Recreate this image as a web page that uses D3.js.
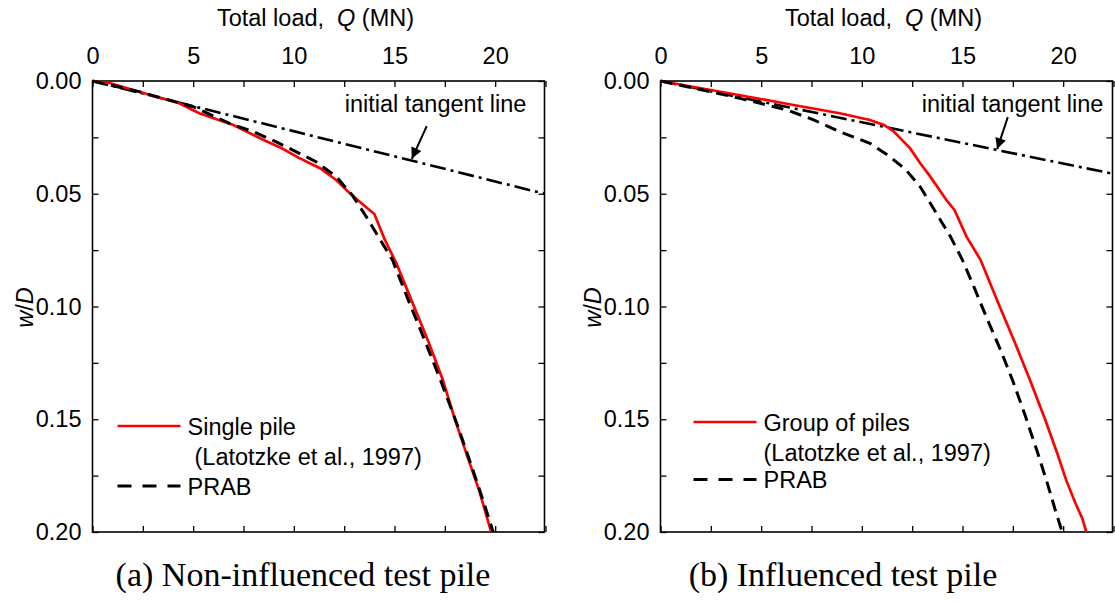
<!DOCTYPE html>
<html>
<head>
<meta charset="utf-8">
<script src="https://cdn.jsdelivr.net/npm/d3@7"></script>
<style>
  body { margin: 0; background: #fff; }
  svg text { font-family: "Liberation Sans", Arial, sans-serif; }
</style>
</head>
<body>
<div id="chart"></div>
<script>
// load Q (MN) vs normalised settlement w/D
// (a) non-influenced test pile
var singleQ = [0, 0.9, 2.7, 4.3, 5.3, 7.0, 8.5, 9.4, 10.3, 11.3, 12.1, 12.7, 13.4, 14.0, 14.5, 15.1, 15.9, 16.7, 17.4, 18.0, 18.6, 19.2, 19.8]
var singleW = [0, 0.0010, 0.0058, 0.0099, 0.0143, 0.0195, 0.0262, 0.0298, 0.0343, 0.0387, 0.0439, 0.0491, 0.0545, 0.0590, 0.0700, 0.0810, 0.0985, 0.1160, 0.1326, 0.1500, 0.1660, 0.1814, 0.2000]
var prabAQ = [0, 2.3, 3.8, 5.0, 6.8, 8.0, 9.1, 10.1, 11.1, 12.1, 12.9, 13.6, 14.2, 14.9, 15.7, 16.5, 17.3, 18.1, 18.8, 19.4, 19.9]
var prabAW = [0, 0.0047, 0.0084, 0.0114, 0.0188, 0.0225, 0.0269, 0.0313, 0.0358, 0.0424, 0.0506, 0.0602, 0.0690, 0.0794, 0.0975, 0.1150, 0.1330, 0.1520, 0.1700, 0.1860, 0.2000]
var tangentAQ = [0, 22.45]
var tangentAW = [0, 0.0500]
var arrowAQ = [16.6, 15.86]
var arrowAW = [0.0200, 0.0345]

// (b) influenced test pile
var groupQ = [0, 2.5, 4.5, 6.4, 8.9, 10.4, 11.1, 11.6, 12.4, 12.9, 13.4, 14.2, 14.6, 15.2, 15.9, 16.8, 17.6, 18.35, 19.1, 19.7, 20.15, 20.6, 20.95, 21.15]
var groupW = [0, 0.0040, 0.0072, 0.0103, 0.0143, 0.0173, 0.0195, 0.0225, 0.0299, 0.0365, 0.0424, 0.0528, 0.0572, 0.0690, 0.0794, 0.0990, 0.1160, 0.1326, 0.1500, 0.1650, 0.1770, 0.1870, 0.1940, 0.2000]
var prabBQ = [0, 2.45, 3.95, 4.95, 6.3, 7.6, 8.9, 10.4, 11.4, 12.2, 12.9, 13.4, 13.9, 14.4, 15.0, 15.6, 16.2, 16.9, 17.5, 18.1, 18.7, 19.2, 19.6, 19.95]
var prabBW = [0, 0.0047, 0.0077, 0.0099, 0.0129, 0.0172, 0.0225, 0.0276, 0.0336, 0.0395, 0.0469, 0.0542, 0.0616, 0.0690, 0.0794, 0.0920, 0.1050, 0.1195, 0.1330, 0.1480, 0.1640, 0.1780, 0.1900, 0.2000]
var tangentBQ = [0, 22.45]
var tangentBW = [0, 0.0411]
var arrowBQ = [17.25, 16.72]
var arrowBW = [0.0160, 0.0302]

// axis ticks
var xTicks = [0, 2.5, 5, 7.5, 10, 12.5, 15, 17.5, 20, 22.5]
var yTicks = [0, 0.025, 0.05, 0.075, 0.1, 0.125, 0.15, 0.175, 0.2]

var widthSvg = 1115
var heightSvg = 602
var graphwidth = 452
var graphheight = 451
var topY = 81
var fontSize = "23.5px"

var svg = d3.select("#chart")
  .append("svg")
  .attr("width", widthSvg)
  .attr("height", heightSvg)

// arrow head marker
svg.append("defs").append("marker")
  .attr("id", "head")
  .attr("viewBox", "0 0 10 10")
  .attr("refX", 10)
  .attr("refY", 5)
  .attr("markerWidth", 14)
  .attr("markerHeight", 11)
  .attr("markerUnits", "userSpaceOnUse")
  .attr("orient", "auto")
  .append("path")
  .attr("d", "M0,0 L10,5 L0,10 Z")
  .attr("fill", "black")

function zip(qs, ws) {
  return qs.map(function(q, i) { return [q, ws[i]] })
}

function panel(p) {
  var g = svg.append("g").attr("transform", "translate(" + p.left + "," + topY + ")")

  var x = d3.scaleLinear().domain([0, 22.45]).range([0, graphwidth])
  var y = d3.scaleLinear().domain([0, 0.2]).range([0, graphheight])

  var line = d3.line()
    .x(function(d) { return x(d[0]) })
    .y(function(d) { return y(d[1]) })

  // axes, ticks pointing inward
  var xTop = d3.axisTop(x).tickValues(xTicks).tickSizeInner(-6).tickSizeOuter(0).tickPadding(17)
    .tickFormat(function(d) { return d % 5 === 0 ? d : "" })
  var xBottom = d3.axisBottom(x).tickValues(xTicks).tickSizeInner(-6).tickSizeOuter(0).tickFormat("")
  var yLeft = d3.axisLeft(y).tickValues(yTicks).tickSizeInner(-6).tickSizeOuter(0).tickPadding(11)
    .tickFormat(function(d) { return Math.round(d * 1000) % 50 === 0 ? d3.format(".2f")(d) : "" })
  var yRight = d3.axisRight(y).tickValues(yTicks).tickSizeInner(-6).tickSizeOuter(0).tickFormat("")

  g.append("g").call(xTop)
  g.append("g").attr("transform", "translate(0," + graphheight + ")").call(xBottom)
  g.append("g").call(yLeft)
  g.append("g").attr("transform", "translate(" + graphwidth + ",0)").call(yRight)
  g.selectAll(".domain").remove()
  g.selectAll(".tick line").attr("stroke", "black").attr("stroke-width", 1.3)
  g.selectAll(".tick text")
    .attr("fill", "black")
    .style("font-size", fontSize)
    .style("font-family", "'Liberation Sans', Arial, sans-serif")

  g.append("rect")
    .attr("width", graphwidth)
    .attr("height", graphheight)
    .attr("fill", "none")
    .attr("stroke", "black")
    .attr("stroke-width", 1.6)

  // curves
  g.append("path")
    .datum(zip(p.tanQ, p.tanW))
    .attr("d", line)
    .attr("fill", "none")
    .attr("stroke", "black")
    .attr("stroke-width", 2.6)
    .attr("stroke-dasharray", "16,5,3,5")

  g.append("path")
    .datum(zip(p.redQ, p.redW))
    .attr("d", line)
    .attr("fill", "none")
    .attr("stroke", "#ff0000")
    .attr("stroke-width", 2.7)

  g.append("path")
    .datum(zip(p.blkQ, p.blkW))
    .attr("d", line)
    .attr("fill", "none")
    .attr("stroke", "black")
    .attr("stroke-width", 3)
    .attr("stroke-dasharray", "12,7")

  // arrow towards tangent line
  g.append("line")
    .attr("x1", x(p.arrQ[0])).attr("y1", y(p.arrW[0]))
    .attr("x2", x(p.arrQ[1])).attr("y2", y(p.arrW[1]))
    .attr("stroke", "black")
    .attr("stroke-width", 2)
    .attr("marker-end", "url(#head)")

  g.append("text")
    .attr("x", p.tanLabelX)
    .attr("y", 31)
    .attr("text-anchor", "middle")
    .style("font-size", fontSize)
    .text("initial tangent line")

  // legend
  var lg = g.append("g").attr("transform", "translate(" + p.legX + "," + p.legY + ")")
  lg.append("line").attr("x1", 0).attr("x2", 63).attr("y1", 0).attr("y2", 0)
    .attr("stroke", "#ff0000").attr("stroke-width", 2.7)
  lg.append("text").attr("x", 70).attr("y", 8.5).style("font-size", fontSize).text(p.redName)
  lg.append("text").attr("x", p.refX).attr("y", 38.5).style("font-size", fontSize).text("(Latotzke et al., 1997)")
  lg.append("line").attr("x1", 0).attr("x2", 63).attr("y1", p.prabDy).attr("y2", p.prabDy)
    .attr("stroke", "black").attr("stroke-width", 3).attr("stroke-dasharray", "14,11")
  lg.append("text").attr("x", 70).attr("y", p.prabDy + 8.5).style("font-size", fontSize).text("PRAB")

  // axis titles
  var title = svg.append("text")
    .attr("x", p.left + graphwidth / 2 - 3)
    .attr("y", 26)
    .attr("text-anchor", "middle")
    .style("font-size", fontSize)
  title.append("tspan").text("Total load,")
  title.append("tspan").attr("dx", 13).style("font-style", "italic").text("Q")
  title.append("tspan").text(" (MN)")

  var ylab = svg.append("text")
    .attr("transform", "translate(" + (p.left - 60) + "," + (topY + graphheight / 2 + 1) + ") rotate(-90)")
    .attr("text-anchor", "middle")
    .style("font-size", fontSize)
  ylab.append("tspan").style("font-style", "italic").text("w")
  ylab.append("tspan").text("/")
  ylab.append("tspan").style("font-style", "italic").text("D")

  svg.append("text")
    .attr("x", p.capX)
    .attr("y", 586)
    .attr("text-anchor", "middle")
    .style("font-family", "'Liberation Serif', 'Times New Roman', serif")
    .style("font-size", "34px")
    .text(p.caption)
}

panel({
  left: 92.5, redQ: singleQ, redW: singleW, blkQ: prabAQ, blkW: prabAW,
  tanQ: tangentAQ, tanW: tangentAW, arrQ: arrowAQ, arrW: arrowAW,
  tanLabelX: 343, legX: 25, legY: 345, refX: 77, prabDy: 60,
  redName: "Single pile", capX: 303, caption: "(a) Non-influenced test pile"
})

panel({
  left: 660.5, redQ: groupQ, redW: groupW, blkQ: prabBQ, blkW: prabBW,
  tanLabelX: 352, tanQ: tangentBQ, tanW: tangentBW, arrQ: arrowBQ, arrW: arrowBW,
  legX: 33, legY: 341, refX: 70, prabDy: 57.5,
  redName: "Group of piles", capX: 843, caption: "(b) Influenced test pile"
})
</script>
</body>
</html>
